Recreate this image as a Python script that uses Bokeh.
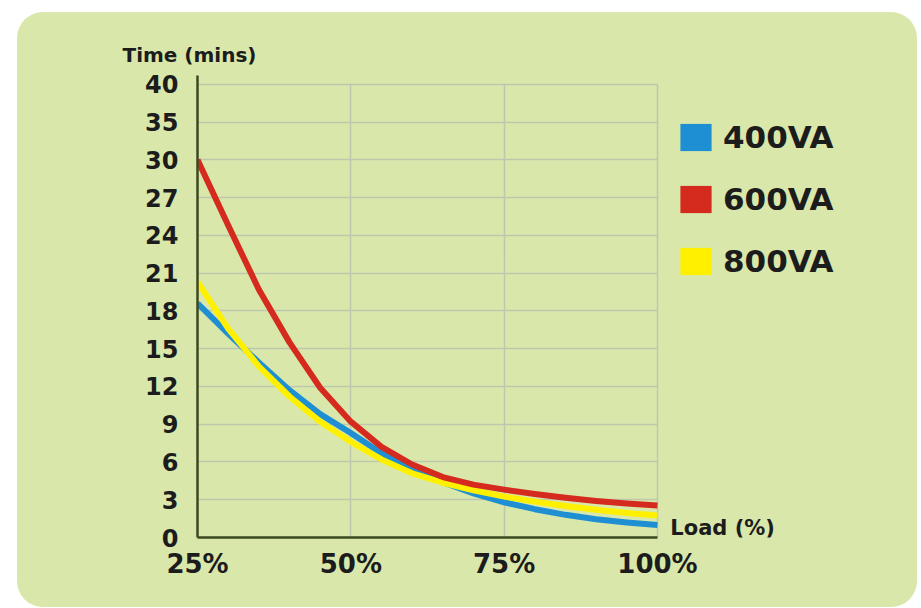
import numpy as np
from bokeh.plotting import figure
from bokeh.models import (Range1d, FixedTicker, Label, Legend, LegendItem, Title)
from bokeh.embed import file_html
from bokeh.resources import INLINE

# ---- data ----
load = [25, 30, 35, 40, 45, 50, 55, 60, 65, 70, 75, 80, 85, 90, 95, 100]
va400 = [18.6, 16.2, 13.9, 11.7, 9.8, 8.3, 6.7, 5.4, 4.4, 3.5, 2.8, 2.25, 1.8, 1.45, 1.2, 1.0]
va600 = [30.0, 24.8, 19.7, 15.5, 11.9, 9.2, 7.2, 5.8, 4.8, 4.2, 3.8, 3.45, 3.15, 2.9, 2.7, 2.55]
va800 = [20.3, 16.6, 13.6, 11.2, 9.2, 7.6, 6.2, 5.1, 4.35, 3.75, 3.25, 2.85, 2.5, 2.2, 1.95, 1.75]
series_names = ["400VA", "600VA", "800VA"]
x_ticks = [25, 50, 75, 100]
x_tick_labels = ["25%", "50%", "75%", "100%"]
y_ticks = [0, 3, 6, 9, 12, 15, 18, 21, 24, 27, 30, 33, 36]
y_tick_labels = ["0", "3", "6", "9", "12", "15", "18", "21", "24", "27", "30", "35", "40"]

BG = "#D9E8AA"
AXIS = "#3B4A1F"
GRID = "#BEC7AE"
TXT = "#1c1c1c"
FONT = "DejaVu Sans"
colors = {"400VA": "#1E8FD2", "600VA": "#D52B1E", "800VA": "#FFF000"}

# frame spans to the right edge of the panel so the legend and the
# "Load (%)" label sit inside it; axis and grids are bounded to 25..100
p = figure(width=900, height=595, output_backend="svg", toolbar_location=None,
           x_range=Range1d(25, 142.4), y_range=Range1d(0, 36.7),
           min_border_left=180, min_border_right=0, min_border_top=63,
           min_border_bottom=70)
p.margin = (12, 0, 0, 17)
p.styles = {"background-color": BG, "border-radius": "26px"}
p.border_fill_color = None
p.background_fill_color = None
p.outline_line_color = None

# axes
p.xaxis.ticker = FixedTicker(ticks=x_ticks)
p.xaxis.major_label_overrides = {t: l for t, l in zip(x_ticks, x_tick_labels)}
p.xaxis.bounds = (25, 100)
p.yaxis.ticker = FixedTicker(ticks=y_ticks)
p.yaxis.major_label_overrides = {t: l for t, l in zip(y_ticks, y_tick_labels)}
for ax in (p.xaxis, p.yaxis):
    ax.axis_line_color = AXIS
    ax.axis_line_width = 2.5
    ax.major_tick_line_color = None
    ax.minor_tick_line_color = None
    ax.major_label_text_font = FONT
    ax.major_label_text_font_style = "bold"
    ax.major_label_text_color = TXT
p.xaxis.major_label_text_font_size = "26px"
p.yaxis.major_label_text_font_size = "24px"
p.xaxis.major_label_standoff = 5
p.yaxis.major_label_standoff = 13

p.xgrid.ticker = FixedTicker(ticks=[50, 75, 100])
p.xgrid.cross_bounds = (0, 36)
p.ygrid.ticker = FixedTicker(ticks=y_ticks[1:])
p.ygrid.cross_bounds = (25, 100)
for g in (p.xgrid, p.ygrid):
    g.grid_line_color = GRID
    g.grid_line_width = 1.5

# curves
data = {"400VA": va400, "600VA": va600, "800VA": va800}
for name in ["400VA", "800VA", "600VA"]:
    p.line(load, data[name], line_color=colors[name], line_width=6,
           line_join="round")

# legend with square swatches (legend-only renderers, nothing drawn in plot)
nan = np.array([np.nan])
items = []
for name in series_names:
    r = p.quad(left=nan, right=nan, top=nan, bottom=nan,
               fill_color=colors[name], line_color=None)
    items.append(LegendItem(label=name, renderers=[r]))
legend = Legend(items=items, location=(479, 258), orientation="vertical",
                glyph_width=39, glyph_height=34, label_standoff=8, spacing=26,
                padding=0, margin=0, border_line_color=None,
                background_fill_alpha=0, label_text_font=FONT,
                label_text_font_style="bold", label_text_font_size="31px",
                label_text_color=TXT)
p.add_layout(legend)

# axis titles
p.add_layout(Title(text="Time (mins)", align="left", offset=-75,
                   text_font=FONT, text_font_style="bold",
                   text_font_size="20px", text_color=TXT, standoff=18), "above")
p.add_layout(Label(x=102.1, y=0.75, text="Load (%)", text_font=FONT,
                   text_font_style="bold", text_font_size="21px",
                   text_color=TXT, text_baseline="alphabetic"))

open("out.html", "w").write(file_html(p, INLINE))
